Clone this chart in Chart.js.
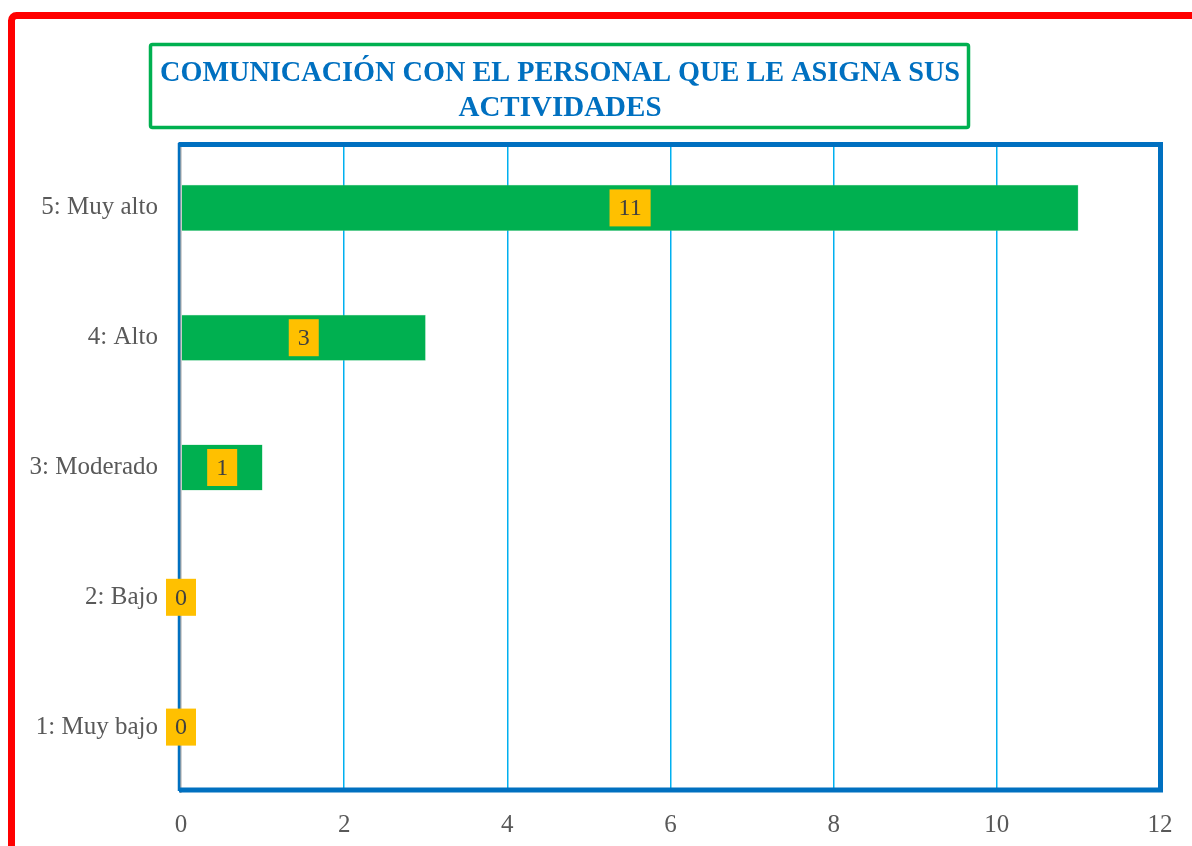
<!DOCTYPE html>
<html>
<head>
<meta charset="utf-8">
<script src="https://cdn.jsdelivr.net/npm/chart.js@4.4.0/dist/chart.umd.min.js"></script>
<style>
  body { margin: 0; background: #fff; }
</style>
</head>
<body>
<canvas id="grafico" width="1192" height="846"></canvas>
<script>
// datos del grafico
const categorias = ['5: Muy alto', '4: Alto', '3: Moderado', '2: Bajo', '1: Muy bajo'];
const valores = [11, 3, 1, 0, 0];
const tituloLineas = ['COMUNICACIÓN CON EL PERSONAL QUE LE ASIGNA SUS', 'ACTIVIDADES'];
const ejeMin = 0;
const ejeMax = 12;
const ejePaso = 2;

const fuente = "'Liberation Serif', 'DejaVu Serif', serif";

// marcos, titulo y etiquetas
const marcos = {
    id: 'marcos',
    beforeDraw(chart) {
        const ctx = chart.ctx;
        ctx.save();
        // marco rojo exterior
        ctx.strokeStyle = '#FF0000';
        ctx.lineWidth = 7;
        ctx.beginPath();
        ctx.roundRect(11.5, 15.5, 1400, 1000, 5);
        ctx.stroke();
        // caja del titulo
        ctx.strokeStyle = '#00B050';
        ctx.lineWidth = 3.5;
        ctx.beginPath();
        ctx.roundRect(150.5, 44.5, 818, 83, 2);
        ctx.stroke();
        ctx.fillStyle = '#0070C0';
        ctx.font = 'bold 29px ' + fuente;
        ctx.textAlign = 'center';
        ctx.textBaseline = 'alphabetic';
        ctx.fillText(tituloLineas[0], 560, 81, 800);
        ctx.fillText(tituloLineas[1], 560, 116, 800);
        ctx.restore();
    },
    afterDatasetsDraw(chart) {
        const ctx = chart.ctx;
        const a = chart.chartArea;
        ctx.save();
        // borde del area de trazado
        ctx.strokeStyle = '#0070C0';
        ctx.lineWidth = 5;
        ctx.beginPath();
        ctx.moveTo(178.5, 144.5);
        ctx.lineTo(a.right + 0.5, 144.5);
        ctx.lineTo(a.right + 0.5, 790);
        ctx.lineTo(179, 790);
        ctx.stroke();
        ctx.lineWidth = 2.5;
        ctx.beginPath();
        ctx.moveTo(179, 143);
        ctx.lineTo(179, 791);
        ctx.stroke();

        // etiquetas de datos
        const meta = chart.getDatasetMeta(0);
        ctx.font = '24px ' + fuente;
        ctx.textAlign = 'center';
        ctx.textBaseline = 'middle';
        meta.data.forEach((bar, i) => {
            const txt = String(valores[i]);
            const cx = (bar.x + bar.base) / 2;
            const w = ctx.measureText(txt).width + 18;
            const h = 37;
            ctx.fillStyle = '#FFC000';
            ctx.fillRect(cx - w / 2, bar.y - h / 2, w, h);
            ctx.fillStyle = '#404040';
            ctx.fillText(txt, cx, bar.y + 1);
        });
        ctx.restore();
    }
};

new Chart(document.getElementById('grafico'), {
    type: 'bar',
    data: {
        labels: categorias,
        datasets: [{
            data: valores,
            backgroundColor: '#00B050',
            borderColor: '#7fd8a7',
            borderWidth: 0.5,
            barPercentage: 0.355,
            categoryPercentage: 1
        }]
    },
    options: {
        indexAxis: 'y',
        responsive: false,
        animation: false,
        layout: { padding: { top: 143, right: 32, bottom: 0, left: 0 } },
        plugins: {
            legend: { display: false },
            tooltip: { enabled: false }
        },
        scales: {
            x: {
                min: ejeMin,
                max: ejeMax,
                afterFit(scale) { scale.height = 54; },
                ticks: {
                    stepSize: ejePaso,
                    color: '#595959',
                    font: { family: fuente, size: 25 },
                    padding: 18
                },
                grid: {
                    drawTicks: false,
                    lineWidth: 1.5,
                    color: c => (c.tick && (c.tick.value === ejeMin || c.tick.value === ejeMax)) ? 'rgba(0,0,0,0)' : '#00B0F0'
                },
                border: { display: false }
            },
            y: {
                afterFit(scale) { scale.width = 181; },
                ticks: {
                    color: '#595959',
                    font: { family: fuente, size: 25 },
                    padding: 23
                },
                grid: { display: false, drawTicks: false },
                border: { display: true, color: '#a6a6a6', width: 1.5 }
            }
        }
    },
    plugins: [marcos]
});
</script>
</body>
</html>
